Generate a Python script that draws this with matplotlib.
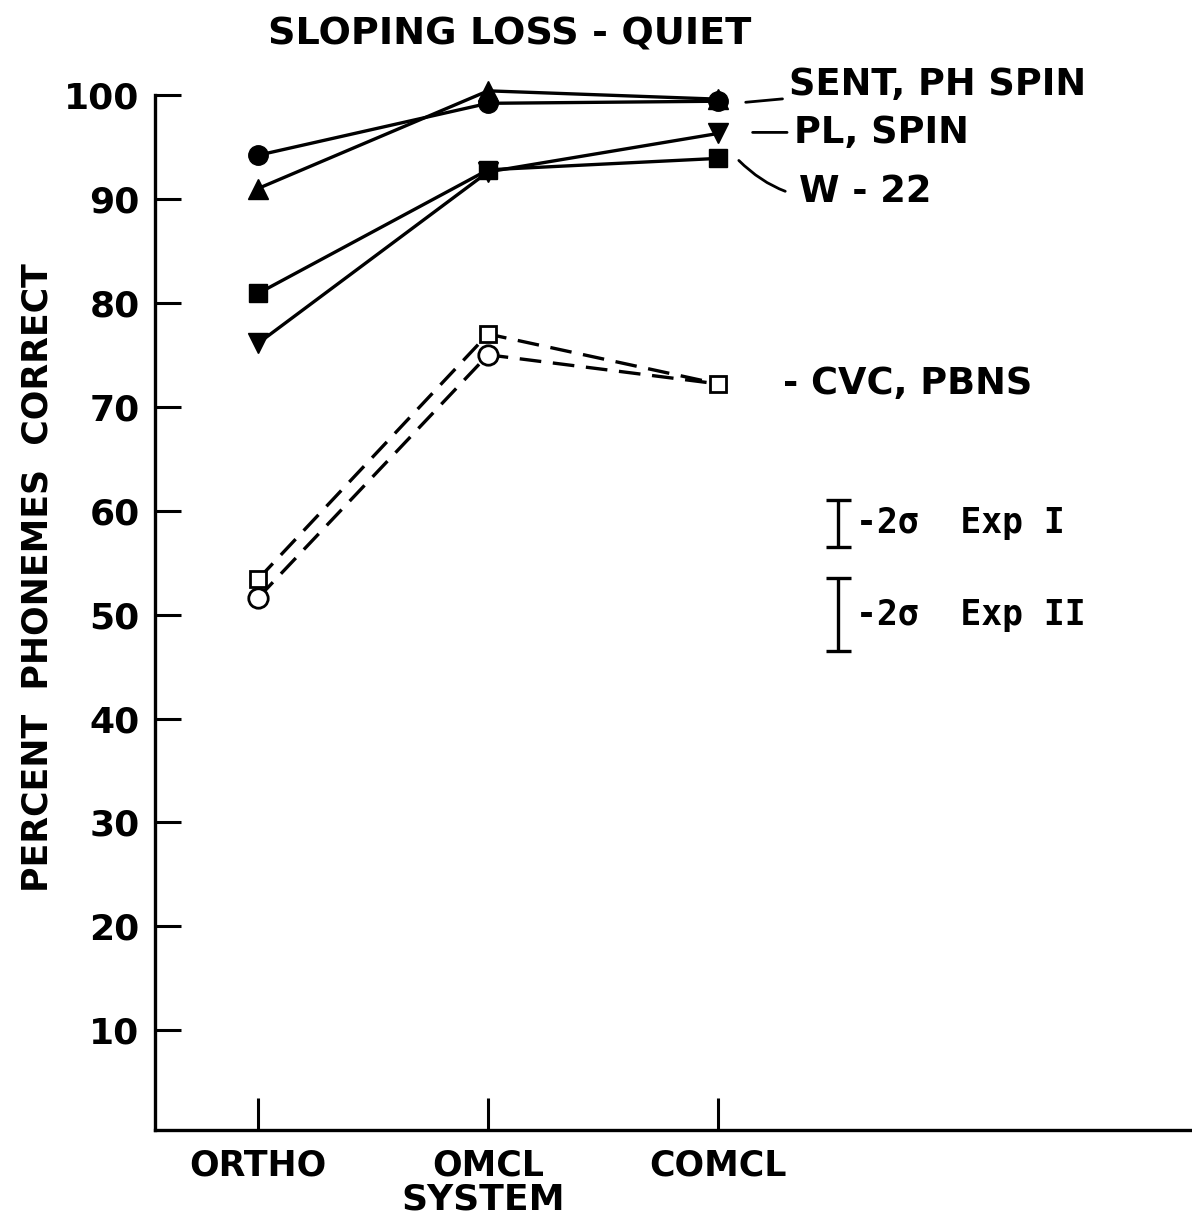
import matplotlib.pyplot as plt

systems = ["ORTHO", "OMCL", "COMCL"]
xpos = [1, 2, 3]

sent = [94.2, 99.2, 99.4]
ph_spin = [91.0, 100.4, 99.6]
pl_spin = [76.1, 92.6, 96.3]
w22 = [80.9, 92.8, 93.9]
cvc = [53.4, 77.0, 72.2]
pbns = [51.6, 75.0, 72.2]

yticks = [10, 20, 30, 40, 50, 60, 70, 80, 90, 100]

# 2-sigma bars: (x, centre, half range)
sig_x = 3.52
sig_exp1 = (58.8, 2.25)
sig_exp2 = (50.0, 3.55)


def main():
    plt.rcParams["font.family"] = "DejaVu Sans"
    plt.rcParams["font.weight"] = "bold"

    fig = plt.figure(figsize=(11.92, 12.21), dpi=100)
    ax = fig.add_axes([0.130, 0.0745, 0.870, 0.8477])

    lw = 2.4
    solid = dict(color="black", lw=lw, clip_on=False, zorder=3)
    ax.plot(xpos, sent, marker="o", ms=14, **solid)
    ax.plot(xpos, ph_spin, marker="^", ms=15, **solid)
    ax.plot(xpos, pl_spin, marker="v", ms=15, **solid)
    ax.plot(xpos, w22, marker="s", ms=13, **solid)

    dashed = dict(color="black", lw=lw, ls=(0, (6.5, 3.5)), mfc="white",
                  mec="black", mew=2, clip_on=False, zorder=3)
    ax.plot(xpos, cvc, marker="s", ms=12, **dashed)
    ax.plot(xpos, pbns, marker="o", ms=14, markevery=[0, 1], **dashed)

    # error bars for 2 sigma
    for c, h in (sig_exp1, sig_exp2):
        ax.errorbar([sig_x], [c], yerr=[h], fmt="none", ecolor="black",
                    elinewidth=2.4, capsize=9, capthick=2.4)
    mono = dict(family="DejaVu Sans Mono", fontsize=25, fontweight="bold",
                va="center", ha="left")
    ax.text(sig_x + 0.08, sig_exp1[0], "-2\u03c3  Exp I", **mono)
    ax.text(sig_x + 0.08, sig_exp2[0], "-2\u03c3  Exp II", **mono)

    # series labels
    lab = dict(fontsize=26.5, fontweight="bold", va="center", ha="left")
    ax.annotate("SENT, PH SPIN", xy=(3.12, 99.3), xytext=(3.31, 101.0),
                arrowprops=dict(arrowstyle="-", lw=2, shrinkA=3, shrinkB=0),
                annotation_clip=False, **lab)
    ax.annotate("PL, SPIN", xy=(3.15, 96.4), xytext=(3.33, 96.4),
                arrowprops=dict(arrowstyle="-", lw=2, shrinkA=3, shrinkB=0),
                annotation_clip=False, **lab)
    ax.annotate("W - 22", xy=(3.09, 93.7), xytext=(3.35, 90.7),
                arrowprops=dict(arrowstyle="-", lw=2, shrinkA=8, shrinkB=0,
                                connectionstyle="arc3,rad=-0.3"),
                annotation_clip=False, **lab)
    ax.text(3.28, 72.2, "- CVC, PBNS", **lab)

    ax.set_xlim(0.552, 5.06)
    ax.set_ylim(0.4, 100)
    ax.set_xticks(xpos)
    ax.set_xticklabels(systems)
    ax.set_yticks(yticks)
    ax.set_yticklabels([str(v) for v in yticks])

    for s in ("top", "right"):
        ax.spines[s].set_visible(False)
    for s in ("left", "bottom"):
        ax.spines[s].set_linewidth(2.4)

    ax.tick_params(axis="y", direction="in", length=19, width=2.2,
                   pad=11, labelsize=26)
    ax.tick_params(axis="x", direction="in", length=23, width=2.2,
                   pad=13, labelsize=25)

    fig.text(510 / 1192, 1 - 35 / 1221, "SLOPING LOSS - QUIET",
             fontsize=27.5, fontweight="bold", ha="center", va="center")
    fig.text(38 / 1192, 1 - 578 / 1221, "PERCENT  PHONEMES  CORRECT",
             fontsize=25, fontweight="bold", rotation=90,
             ha="center", va="center")
    fig.text(483 / 1192, 1 - 1200 / 1221, "SYSTEM",
             fontsize=26, fontweight="bold", ha="center", va="center")

    fig.savefig("out.png", dpi=100)
    plt.close(fig)


if __name__ == "__main__":
    main()
